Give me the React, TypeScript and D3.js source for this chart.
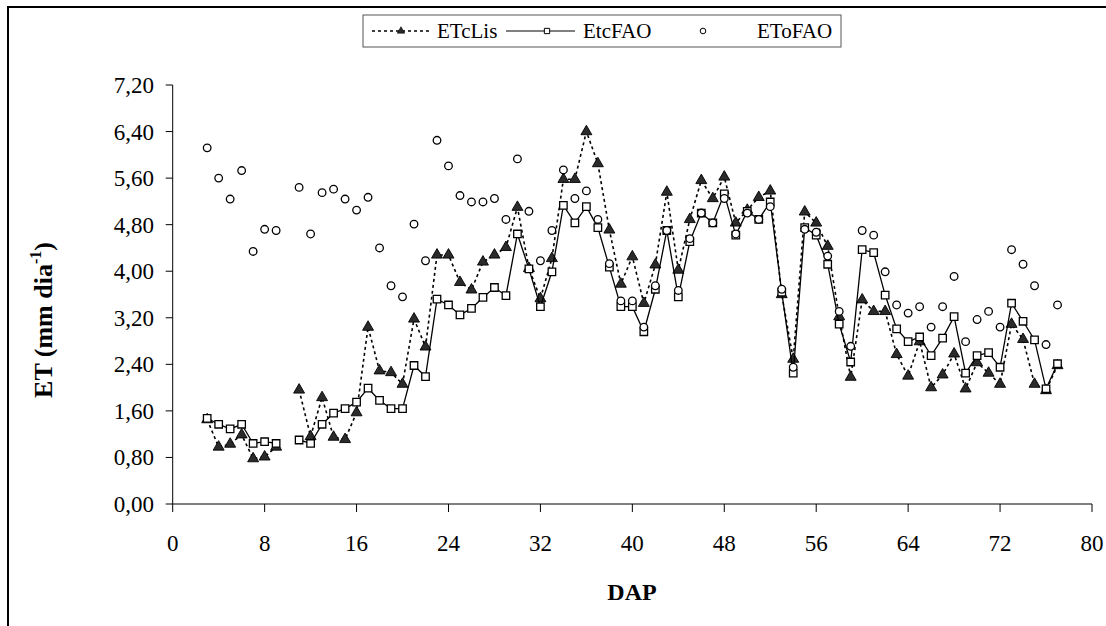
import React from 'react';
import * as d3 from 'd3';

const days = [3,4,5,6,7,8,9,10,11,12,13,14,15,16,17,18,19,20,21,22,23,24,25,26,27,28,29,30,31,32,33,34,35,36,37,38,39,40,41,42,43,44,45,46,47,48,49,50,51,52,53,54,55,56,57,58,59,60,61,62,63,64,65,66,67,68,69,70,71,72,73,74,75,76,77];

const etcLis: (number | null)[] = [
  1.45,0.98,1.03,1.19,0.78,0.81,0.98,null,
  1.96,1.16,1.83,1.15,1.11,1.57,3.04,2.29,2.26,2.06,
  3.18,2.70,4.28,4.28,3.81,3.68,4.16,4.28,4.41,5.10,
  4.05,3.53,4.22,5.58,5.58,6.40,5.85,4.71,3.78,4.25,
  3.45,4.11,5.36,4.02,4.89,5.56,5.25,5.62,4.83,5.05,
  5.27,5.38,3.60,2.49,5.02,4.83,4.43,3.22,2.18,3.51,
  3.31,3.31,2.57,2.20,2.79,2.00,2.22,2.58,1.98,2.43,
  2.25,2.06,3.09,2.83,2.06,1.95,2.38
];

const etcFAO: (number | null)[] = [
  1.47,1.37,1.29,1.37,1.04,1.07,1.04,null,
  1.10,1.04,1.37,1.56,1.64,1.75,1.99,1.78,1.64,1.64,
  2.38,2.19,3.52,3.42,3.25,3.36,3.55,3.72,3.58,4.64,
  4.04,3.39,3.99,5.13,4.83,5.11,4.75,4.07,3.39,3.39,
  2.96,3.69,4.70,3.56,4.51,5.00,4.83,5.33,4.62,5.03,
  4.89,5.19,3.64,2.25,4.75,4.62,4.12,3.09,2.44,4.37,
  4.32,3.59,3.01,2.79,2.87,2.55,2.85,3.22,2.25,2.55,
  2.60,2.35,3.45,3.14,2.82,1.98,2.41
];

const etoFAO: (number | null)[] = [
  6.12,5.60,5.24,5.73,4.34,4.72,4.70,null,
  5.44,4.64,5.35,5.41,5.24,5.05,5.27,4.40,3.75,3.56,
  4.81,4.18,6.25,5.81,5.30,5.19,5.19,5.25,4.89,5.93,
  5.03,4.18,4.70,5.74,5.25,5.38,4.89,4.13,3.49,3.49,
  3.04,3.75,4.70,3.67,4.56,5.00,4.83,5.25,4.64,5.00,
  4.89,5.11,3.69,2.35,4.72,4.67,4.26,3.31,2.71,4.70,
  4.62,3.99,3.42,3.28,3.39,3.04,3.39,3.91,2.79,3.17,
  3.31,3.04,4.37,4.12,3.75,2.74,3.42
];

const xTicks = [0, 8, 16, 24, 32, 40, 48, 56, 64, 72, 80];
const yTicks = [0, 0.8, 1.6, 2.4, 3.2, 4.0, 4.8, 5.6, 6.4, 7.2];
const seriesNames = ['ETcLis', 'EtcFAO', 'EToFAO'];

const W = 1106;
const H = 626;
const FONT = '"Liberation Serif", "Times New Roman", serif';

export default function App() {
  const x = d3.scaleLinear().domain([0, 80]).range([172.7, 1092]);
  const y = d3.scaleLinear().domain([0, 7.2]).range([504, 85]);

  const mk = (vals: (number | null)[]) => days.map((d, i) => ({ d, v: vals[i] }));
  const lisPts = mk(etcLis);
  const faoPts = mk(etcFAO);
  const etoPts = mk(etoFAO);

  const line = d3
    .line<{ d: number; v: number | null }>()
    .defined((p) => p.v !== null)
    .x((p) => x(p.d))
    .y((p) => y(p.v as number));

  const tri = d3.symbol(d3.symbolTriangle, 52)() as string;
  const sq = d3.symbol(d3.symbolSquare, 56)() as string;
  const triL = d3.symbol(d3.symbolTriangle, 24)() as string;
  const sqL = d3.symbol(d3.symbolSquare, 28)() as string;

  const fmt = (v: number) => v.toFixed(2).replace('.', ',');

  return (
    <svg width={W} height={H} style={{ position: 'absolute', left: 0, top: 0, background: '#fff' }} fontFamily={FONT}>
      <rect x={0} y={0} width={W} height={H} fill="#fff" />
      {/* outer frame */}
      <rect x={8} y={7} width={1300} height={800} fill="none" stroke="#000" strokeWidth={2} />

      {/* axes */}
      <line x1={x(0)} x2={x(80)} y1={y(0)} y2={y(0)} stroke="#000" strokeWidth={1} />
      <line x1={x(0)} x2={x(0)} y1={y(0)} y2={y(7.2)} stroke="#000" strokeWidth={1} />
      {xTicks.map((t) => (
        <g key={'xt' + t}>
          <line x1={x(t)} x2={x(t)} y1={y(0)} y2={y(0) + 8} stroke="#000" strokeWidth={1} />
          <text x={x(t)} y={551} textAnchor="middle" fontSize={23} fill="#000">
            {t}
          </text>
        </g>
      ))}
      {yTicks.map((t) => (
        <g key={'yt' + t}>
          <line x1={x(0) - 7} x2={x(0)} y1={y(t)} y2={y(t)} stroke="#000" strokeWidth={1} />
          <text x={154} y={y(t)} dy="0.35em" textAnchor="end" fontSize={23} fill="#000">
            {fmt(t)}
          </text>
        </g>
      ))}

      {/* axis titles */}
      <text x={632} y={600} textAnchor="middle" fontSize={24} fontWeight="bold" fill="#000">
        DAP
      </text>
      <text transform="translate(52,320) rotate(-90)" textAnchor="middle" fontSize={26} fontWeight="bold" fill="#000">
        ET (mm dia
        <tspan fontSize={16} dy={-11}>-1</tspan>
        <tspan dy={11}>)</tspan>
      </text>

      {/* ETcLis */}
      <path d={line(lisPts) || ''} fill="none" stroke="#000" strokeWidth={1.6} strokeDasharray="3 3" />
      {lisPts.filter((p) => p.v !== null).map((p) => (
        <path key={'t' + p.d} d={tri} transform={`translate(${x(p.d)},${y(p.v as number)})`} fill="#2b2b2b" stroke="#000" strokeWidth={0.9} />
      ))}

      {/* EtcFAO */}
      <path d={line(faoPts) || ''} fill="none" stroke="#000" strokeWidth={1.3} />
      {faoPts.filter((p) => p.v !== null).map((p) => (
        <path key={'s' + p.d} d={sq} transform={`translate(${x(p.d)},${y(p.v as number)})`} fill="#fff" stroke="#000" strokeWidth={1.3} />
      ))}

      {/* EToFAO */}
      {etoPts.filter((p) => p.v !== null).map((p) => (
        <circle key={'c' + p.d} cx={x(p.d)} cy={y(p.v as number)} r={3.8} fill="#fff" stroke="#000" strokeWidth={1.3} />
      ))}

      {/* legend */}
      <rect x={363} y={15} width={478} height={32} fill="#fff" stroke="#555" strokeWidth={1} />
      <line x1={372} x2={429} y1={31} y2={31} stroke="#000" strokeWidth={1.4} strokeDasharray="3 3" />
      <path d={triL} transform="translate(401,31)" fill="#2b2b2b" stroke="#000" strokeWidth={0.6} />
      <text x={437} y={38} fontSize={21} fill="#000">{seriesNames[0]}</text>
      <line x1={506} x2={575} y1={31} y2={31} stroke="#000" strokeWidth={1.2} />
      <path d={sqL} transform="translate(547,31)" fill="#fff" stroke="#000" strokeWidth={1} />
      <text x={583} y={38} fontSize={21} fill="#000">{seriesNames[1]}</text>
      <circle cx={703} cy={31} r={2.8} fill="#fff" stroke="#000" strokeWidth={1} />
      <text x={757} y={38} fontSize={21} fill="#000">{seriesNames[2]}</text>
    </svg>
  );
}
